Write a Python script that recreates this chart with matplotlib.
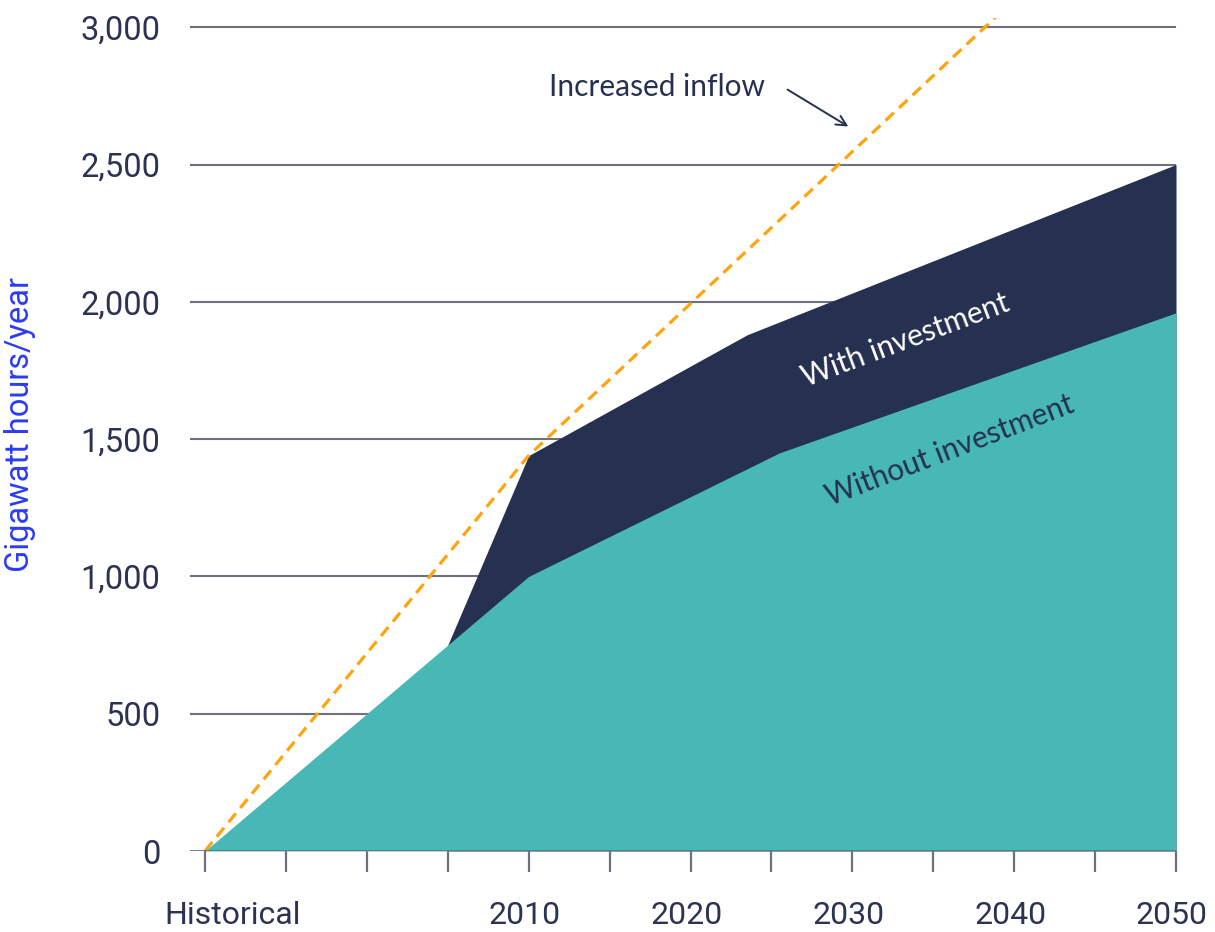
import matplotlib
matplotlib.use("Agg")
import matplotlib.pyplot as plt
import matplotlib.transforms as mtransforms

# ---- data ----
teal_years = [1990, 2010, 2025.5, 2050]
teal_values = [0, 1000, 1450, 1960]          # Without investment
navy_years = [2005, 2010, 2023.5, 2050]
navy_values = [750, 1440, 1880, 2500]        # With investment
inflow_years = [1990, 2010, 2040]
inflow_values = [0, 1440, 3100]              # Increased inflow

tick_years = list(range(1990, 2051, 5))
label_years = [2010, 2020, 2030, 2040, 2050]
label_texts = ["2010", "2020", "2030", "2040", "2050"]
y_ticks = [0, 500, 1000, 1500, 2000, 2500, 3000]
y_labels = ["0", "500", "1,000", "1,500", "2,000", "2,500", "3,000"]

TEAL = "#47B8B5"
NAVY = "#263051"
ORANGE = "#FFA30F"
GRID = "#6E717C"
TEXT = "#2B3252"
BLUE = "#2B3CF5"

plt.rcParams['font.family'] = ['Roboto', 'DejaVu Sans']

fig = plt.figure(figsize=(12.15, 9.32), dpi=100)
ax = fig.add_axes([190/1215, 1-851/932, (1176-190)/1215, (851-17.6)/932])

ax.set_xlim(1990 - 15/16.18, 2050)
ax.set_ylim(0, 3035)

ax.fill_between(navy_years, navy_values, 0, color=NAVY, lw=0, zorder=2)
ax.fill_between(teal_years, teal_values, 0, color=TEAL, lw=0, zorder=3)
ax.plot(inflow_years, inflow_values, color=ORANGE, lw=2.3, dashes=(3.6, 2.2), zorder=4,
        solid_capstyle='butt', dash_capstyle='butt')

for y in y_ticks[1:]:
    ax.axhline(y, color=GRID, lw=1.5, zorder=1)
ax.axhline(0, color=GRID, lw=2, zorder=5)

for s in ax.spines.values():
    s.set_visible(False)

ax.set_yticks(y_ticks)
ax.set_yticklabels(y_labels)
ax.tick_params(axis='y', length=0, pad=21.5, labelsize=23.5, labelcolor=TEXT)
ax.set_xticks(tick_years)
ax.set_xticklabels([])
ax.tick_params(axis='x', length=15, width=1.6, color=GRID, direction='out')

trans = mtransforms.blended_transform_factory(ax.transData, fig.transFigure)
for yr, t in zip(label_years, label_texts):
    ax.text(yr - 0.25, 1-916/932, t, transform=trans, ha='center', va='center',
            fontsize=23, color=TEXT)
ax.text(1991.7, 1-916/932, "Historical", transform=trans, ha='center', va='center',
        fontsize=23, color=TEXT)

fig.text(20/1215, 1-424/932, "Gigawatt hours/year", rotation=90, ha='center', va='center',
         fontsize=23.5, color=BLUE)

ann_font = ['Lato', 'DejaVu Sans']
ax.text(2017.9, 2782, "Increased inflow", ha='center', va='center', fontsize=21.5,
        color=NAVY, family=ann_font, zorder=6)
ax.annotate("", xy=(2029.9, 2633), xytext=(2025.85, 2778),
            arrowprops=dict(arrowstyle='->', color=NAVY, lw=1.4, mutation_scale=18), zorder=6)
ax.text(2033.3, 1861, "With investment", ha='center', va='center', fontsize=21.5,
        color='white', rotation=20.5, rotation_mode='anchor', family=ann_font, zorder=6)
ax.text(2036.0, 1460, "Without investment", ha='center', va='center', fontsize=21.5,
        color=NAVY, rotation=21, rotation_mode='anchor', family=ann_font, zorder=6)

fig.savefig("out.png", dpi=100)
